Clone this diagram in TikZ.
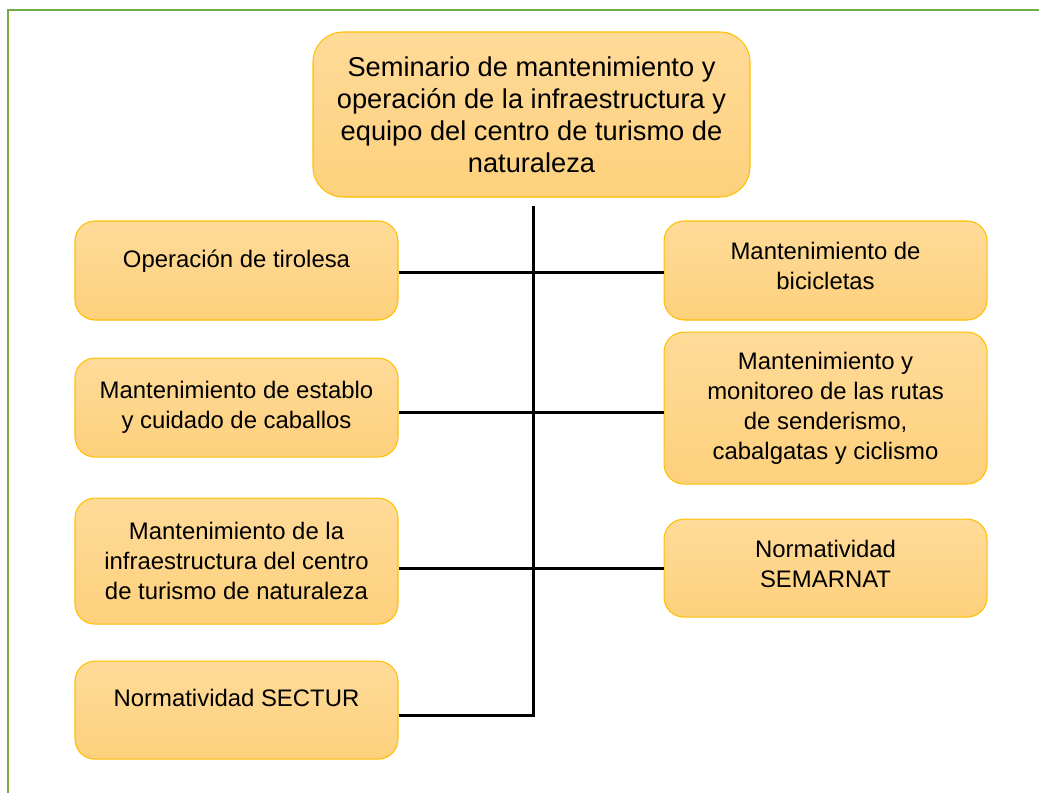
\documentclass[tikz,border=0pt]{standalone}
\usepackage{fontspec}
\setmainfont{Liberation Sans}
\usetikzlibrary{positioning}
\definecolor{boxTop}{HTML}{FFDB99}
\definecolor{boxBot}{HTML}{FDD07C}
\definecolor{boxLine}{HTML}{FFC000}
\definecolor{frameGreen}{HTML}{70AD47}

\begin{document}
\begin{tikzpicture}[
    box/.style={draw=boxLine, line width=0.6pt, rounded corners=0.4cm, top color=boxTop, bottom color=boxBot,
                minimum width=6.46cm, minimum height=1.98cm, align=center, inner sep=0pt,
                font=\fontsize{13.6}{17}\selectfont},
    topbox/.style={box, rounded corners=0.6cm, minimum width=8.74cm, minimum height=3.3cm,
                   font=\fontsize{15.5}{18.2}\selectfont},
    link/.style={line width=1.7pt, black},
    frame/.style={draw=frameGreen, line width=1.7pt}
]
    \useasboundingbox (0,0) rectangle (20.78,-15.84);
    \draw[frame] (0.16,-0.20) rectangle (21.3,-16.4);

    % Title
    \node[topbox] (sem0) at (10.63,-2.29) {Seminario de mantenimiento y\\operación de la infraestructura y\\equipo del centro de turismo de\\naturaleza};

    % Left column
    \node[box, text depth=14pt] (tir) at (4.73,-5.41) {Operación de tirolesa};
    \node[box, below=0.74cm of tir] (est) {Mantenimiento de establo\\y cuidado de caballos};
    \node[box, below=0.8cm of est, minimum height=2.52cm] (inf) {Mantenimiento de la\\infraestructura del centro\\de turismo de naturaleza};
    \node[box, below=0.72cm of inf, minimum height=1.96cm, text depth=14pt] (sec) {Normatividad SECTUR};

    % Right column
    \node[box, right=5.3cm of tir] (bic) {Mantenimiento de\\bicicletas\\[-12pt]};
    \node[box, below=0.22cm of bic, minimum height=3.04cm] (rut) {Mantenimiento y\\monitoreo de las rutas\\de senderismo,\\cabalgatas y ciclismo};
    \node[box, below=0.68cm of rut, minimum height=1.96cm] (smn) {Normatividad\\SEMARNAT\\[-12pt]};

    % Links
    \coordinate (trk) at ([xshift=0.04cm, yshift=-0.16cm]sem0.south);
    \draw[link] ([yshift=-0.03cm]tir.east) -- ([yshift=-0.03cm]tir.east -| bic.west);
    \draw[link] ([yshift=-0.1cm]est.east) -- ([yshift=-0.1cm]est.east -| rut.west);
    \draw[link] (smn.west) -- (smn.west -| inf.east);
    \draw[link] ([yshift=-0.1cm]sec.east) -| (trk);
\end{tikzpicture}
\end{document}
